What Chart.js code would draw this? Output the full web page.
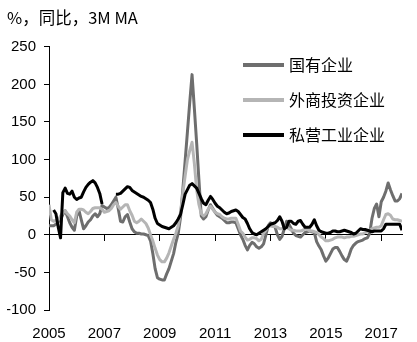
<!DOCTYPE html>
<html>
<head>
<meta charset="utf-8">
<script src="https://cdn.jsdelivr.net/npm/chart.js@4"></script>
<style>
  html, body { margin: 0; padding: 0; background: #fff; }
</style>
</head>
<body>
<canvas id="myChart" width="417" height="342"></canvas>
<script>
// monthly data, Jan 2005 onwards (%, yoy, 3M MA)
const startYear = 2005;
const tickYears = [2005, 2007, 2009, 2011, 2013, 2015, 2017];
const yTicks = [-100, -50, 0, 50, 100, 150, 200, 250];
const seriesNames = ['国有企业', '外商投资企业', '私营工业企业'];

const stateOwned = [
  12, 12, 12, 14, 17, 20, 27, 32, 24, 16, 10, 6,
  25, 32, 20, 8, 12, 17, 20, 25, 28, 24, 28, 39,
  37, 35, 36, 40, 45, 50, 35, 18, 17, 24, 27, 17,
  8, 4, 2, 2, 1, 1, 0, -1, -8, -25, -45, -57,
  -59, -60, -60, -52, -45, -35, -25, -10, 2, 23, 60, 98,
  137, 176, 213, 168, 122, 72, 25, 21, 24, 33, 40, 35,
  30, 26, 24, 22, 19, 16, 16, 17, 17, 16, 8, 0,
  -6, -14, -20, -14, -10, -12, -16, -18, -16, -12, 0, 12,
  16, 13, 10, 0, -6, -2, 8, 18, 14, 8, 2, -1,
  -2, -3, 0, 3, 4, 5, 4, 3, -9, -15, -20, -28,
  -35, -31, -25, -19, -17, -17, -22, -28, -33, -35, -28, -19,
  -14, -11, -9, -8, -7, -5, -4, 2, 22, 35, 41, 24,
  44, 50, 58, 69, 60, 52, 45, 45, 48, 55
];

const foreignInvested = [
  40, 20, 18, 19, 20, 25, 29, 32, 28, 25, 20, 16,
  30, 34, 34, 33, 30, 28, 31, 35, 36, 36, 36, 34,
  30, 31, 32, 35, 40, 43, 38, 34, 37, 40, 40, 32,
  26, 18, 16, 18, 21, 18, 15, 9, 0, -8, -18, -27,
  -33, -36, -36, -31, -24, -15, -6, 2, 12, 30, 55, 78,
  100, 112, 123, 95, 60, 40, 28, 25, 28, 34, 38, 34,
  30, 28, 27, 24, 22, 21, 21, 22, 22, 22, 14, 5,
  2, -3, -7, -6, -4, -4, -5, -8, -6, 2, 6, 11,
  12, 11, 11, 10, 8, 8, 10, 10, 8, 6, 6, 5,
  5, 5, 6, 8, 7, 5, 5, 4, 3, 0, -3, -5,
  -8, -8, -7, -6, -4, -3, -3, -3, -4, -3, -3, -2,
  -2, -1, 0, 1, 1, 3, 4, 6, 8, 9, 10, 10,
  12, 20, 27, 28, 26, 21, 20, 20, 19, 18
];

const privateIndustrial = [
  null, null, 33, 28, 10, -4, 56, 62, 55, 54, 58, 50,
  47, 49, 50, 57, 63, 67, 70, 72, 69, 63, 55, 41,
  null, null, null, null, null, 54, 54, 55, 58, 61, 64, 63,
  59, 57, 55, 53, 51, 50, 48, 46, 43, 34, 22, 15,
  13, 11, 10, 9, 8, 10, 12, 16, 21, 27, 40, 54,
  60, 66, 68, 65, 62, 55, 48, 42, 40, 46, 51, 47,
  42, 38, 36, 33, 30, 28, 29, 31, 32, 33, 31, 27,
  23, 21, 15, 8, 3, 1, 0, 2, 4, 6, 8, 11,
  14, 15, 16, 19, 24, 18, 8, 10, 18, 18, 15, 14,
  18, 19, 14, 10, 10, 10, 14, 20, 12, 6, 4, 3,
  2, 2, 3, 5, 5, 4, 4, 5, 6, 5, 4, 3,
  1, 2, 5, 8, 7, 7, 6, 5, 4, 5, 5, 5,
  5, 8, 14, 14, 14, 14, 14, 14, 14, 6
];

const lastX = startYear + (stateOwned.length - 1) / 12;
const toPoints = arr => arr.map((v, i) => ({ x: startYear + i / 12, y: v }));

const latinFont = '"Liberation Sans", Arial, sans-serif';
const cjkFont = '"Noto Sans CJK SC", "Liberation Sans", sans-serif';

// legend drawn inside the plot, top right
const sideLegend = {
  id: 'sideLegend',
  afterDraw(chart) {
    const c = chart.ctx;
    c.save();
    chart.data.datasets.forEach((ds, i) => {
      const y = 65 + i * 35;
      c.strokeStyle = ds.borderColor;
      c.lineWidth = 4;
      c.beginPath();
      c.moveTo(243, y);
      c.lineTo(284, y);
      c.stroke();
      c.fillStyle = '#000';
      c.font = '16px ' + cjkFont;
      c.textBaseline = 'middle';
      c.fillText(ds.label, 289, y);
    });
    c.restore();
  }
};

const ctx = document.getElementById('myChart');

const chart = new Chart(ctx, {
  type: 'line',
  data: {
    datasets: [
      { label: seriesNames[0], data: toPoints(stateOwned), borderColor: '#6e6e6e', order: 2 },
      { label: seriesNames[1], data: toPoints(foreignInvested), borderColor: '#b5b5b5', order: 1 },
      { label: seriesNames[2], data: toPoints(privateIndustrial), borderColor: '#000000', order: 0 }
    ]
  },
  options: {
    responsive: false,
    animation: false,
    devicePixelRatio: 1,
    layout: { padding: { left: 7, right: 15, top: 0, bottom: 0 } },
    elements: {
      point: { radius: 0 },
      line: { borderWidth: 3, tension: 0, borderJoinStyle: 'round', fill: false }
    },
    plugins: {
      legend: { display: false },
      tooltip: { enabled: false },
      title: {
        display: true,
        text: '%，同比，3M MA',
        align: 'start',
        color: '#000',
        font: { size: 16.5, family: cjkFont, weight: 'normal', lineHeight: 1.2 },
        padding: { top: 8, bottom: 19 }
      }
    },
    scales: {
      x: {
        type: 'linear',
        min: startYear,
        max: lastX,
        position: { y: 0 },
        afterBuildTicks: scale => { scale.ticks = tickYears.map(v => ({ value: v })); },
        ticks: { display: false },
        grid: { drawOnChartArea: false, drawTicks: true, tickLength: 6, color: '#000' },
        border: { display: true, color: '#000', width: 1 }
      },
      x2: {
        type: 'linear',
        min: startYear,
        max: lastX,
        position: 'bottom',
        afterBuildTicks: scale => { scale.ticks = tickYears.map(v => ({ value: v })); },
        afterFit: scale => { scale.height = 32; },
        ticks: {
          color: '#000',
          padding: 7,
          maxRotation: 0,
          font: { size: 15, family: latinFont },
          callback: v => String(v)
        },
        grid: { display: false },
        border: { display: false }
      },
      y: {
        min: -100,
        max: 250,
        afterBuildTicks: scale => { scale.ticks = yTicks.map(v => ({ value: v })); },
        afterFit: scale => { scale.width = 42; },
        ticks: {
          color: '#000',
          padding: 8,
          font: { size: 15, family: latinFont }
        },
        grid: { drawOnChartArea: false, drawTicks: true, tickLength: 5, color: '#000' },
        border: { display: true, color: '#000', width: 1 }
      }
    }
  },
  plugins: [sideLegend]
});
</script>
</body>
</html>
